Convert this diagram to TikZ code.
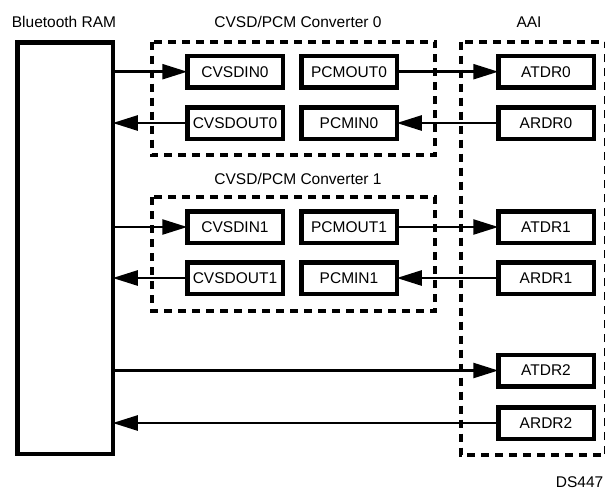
\documentclass[tikz,border=0pt]{standalone}
\usepackage{fontspec}
\setmainfont{Liberation Sans}
\usetikzlibrary{arrows.meta}
\begin{document}
\begin{tikzpicture}[x=1pt,y=-1pt,
  txt/.style={font=\fontsize{15.5}{18}\selectfont, inner sep=0, anchor=base},
  blk/.style={draw, line width=4.5pt, minimum width=95.5pt, minimum height=31.5pt, inner sep=0, outer sep=0, font=\fontsize{15.5}{18}\selectfont},
  grp/.style={draw, line width=4pt, dash pattern=on 8pt off 6pt},
  conn/.style={line width=2.5pt, -{Triangle[length=25pt,width=15pt]}}]
\useasboundingbox (0,0) rectangle (605,491);
% dashed groups
\draw[grp] (152,41.5) rectangle (435,155.3);
\draw[grp] (152,197) rectangle (435,311);
\draw[grp] (460.5,41.5) rectangle (606,455);
% titles
\node[txt] (tram) at (64,27) {Bluetooth RAM};
\node[txt] (tc0) at (298,27) {CVSD/PCM Converter 0};
\node[txt] (tc1) at (298,184) {CVSD/PCM Converter 1};
\node[txt] (taai) at (529,27) {AAI};
\node[txt, anchor=base east] (tds) at (603.5,487) {DS447};
% RAM
\node[draw, line width=4.5pt, minimum width=95.5pt, minimum height=411.5pt, inner sep=0, outer sep=0] (ram) at (65,248) {};
% blocks
\node[blk] (cin0) at (235,71.7) {CVSDIN0};
\node[blk] (pout0) at (349,71.7) {PCMOUT0};
\node[blk] (cout0) at (235,123) {CVSDOUT0};
\node[blk] (pin0) at (349,123) {PCMIN0};
\node[blk] (cin1) at (235,227) {CVSDIN1};
\node[blk] (pout1) at (349,227) {PCMOUT1};
\node[blk] (cout1) at (235,278) {CVSDOUT1};
\node[blk] (pin1) at (349,278) {PCMIN1};
\node[blk] (at0) at (546,71.7) {ATDR0};
\node[blk] (ar0) at (546,123) {ARDR0};
\node[blk] (at1) at (546,227) {ATDR1};
\node[blk] (ar1) at (546,278) {ARDR1};
\node[blk] (at2) at (546,370.5) {ATDR2};
\node[blk] (ar2) at (546,423) {ARDR2};
% connectors
\draw[conn] (ram.east |- cin0.west) -- (cin0.west);
\draw[conn] (cout0.west) -- (ram.east |- cout0.west);
\draw[conn] (pout0.east) -- (at0.west);
\draw[conn] (ar0.west) -- (pin0.east);
\draw[conn] (ram.east |- cin1.west) -- (cin1.west);
\draw[conn] (cout1.west) -- (ram.east |- cout1.west);
\draw[conn] (pout1.east) -- (at1.west);
\draw[conn] (ar1.west) -- (pin1.east);
\draw[conn] (ram.east |- at2.west) -- (at2.west);
\draw[conn] (ar2.west) -- (ram.east |- ar2.west);
\end{tikzpicture}
\end{document}
